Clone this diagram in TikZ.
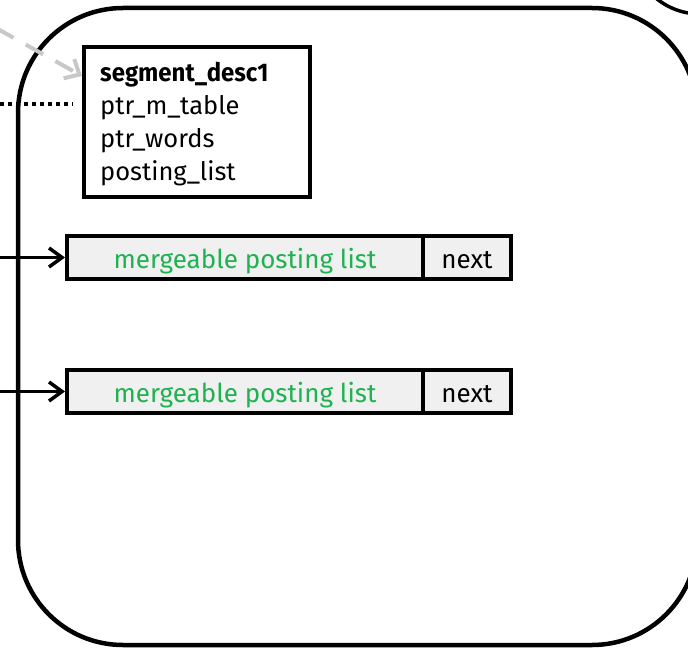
\documentclass[tikz,border=0pt]{standalone}
\usepackage{fontspec}
\setmainfont{Fira Sans}
\usetikzlibrary{arrows.meta}
\definecolor{mplgreen}{RGB}{30,178,80}
\definecolor{boxgray}{RGB}{240,240,240}
\definecolor{dashgray}{RGB}{200,200,200}
\begin{document}
\begin{tikzpicture}[x=1pt,y=-1pt,
  bigbox/.style={line width=4.5pt, rounded corners=105pt},
  descbox/.style={draw, line width=4pt, fill=white, rectangle, minimum width=226pt, minimum height=150pt, inner sep=0pt},
  desctext/.style={align=left, inner sep=0pt, font=\fontsize{25.5}{33}\selectfont},
  mplbox/.style={draw, line width=4pt, fill=boxgray, rectangle, minimum width=356pt, minimum height=43pt, inner sep=0pt, text height=26pt, text depth=5pt, text=mplgreen, font=\fontsize{26}{30}\selectfont},
  nextbox/.style={draw, line width=4pt, fill=boxgray, rectangle, minimum width=88pt, minimum height=43pt, inner sep=0pt, text height=26pt, text depth=5pt, font=\fontsize{26}{30}\selectfont},
  arr/.style={line width=3.5pt, -{Straight Barb[length=13pt,width=19pt,line width=3.5pt]}},
  grayarr/.style={line width=4pt, dashgray, dash pattern=on 20pt off 14pt, -{Straight Barb[length=12pt,width=22pt,line width=4pt]}},
  dotline/.style={line width=4pt, dash pattern=on 4pt off 4pt}
]
\useasboundingbox (0,0) rectangle (688,650);
\clip (0,0) rectangle (688,650);
% big rounded container
\draw[bigbox] (18,8) rectangle (697,645);
% corner of neighbouring container (top right)
\draw[line width=3.5pt] (700,-55) circle[radius=69pt];
% descriptor box
\node[descbox, anchor=north west] (desc) at (82,45) {};
\node[desctext, anchor=north west] (desctxt) at (100,61.5) {\scalebox{0.94}[1]{\textbf{segment\_desc1}}\\ptr\_m\_table\\ptr\_words\\posting\_list};
% incoming connectors
\coordinate (gs) at (-4,28);
\draw[grayarr] (gs) -- (desc.north west |- 0,76) ;
\coordinate (ds) at (0,104);
\coordinate (de) at (73,104);
\draw[dotline] (ds) -- (de);
% posting list rows
\node[mplbox] (m1) at (245,257.5) {mergeable posting list};
\node[nextbox] (n1) at (467,257.5) {next};
\node[mplbox] (m2) at (245,391.5) {mergeable posting list};
\node[nextbox] (n2) at (467,391.5) {next};
\coordinate (s1) at (0,257.5);
\coordinate (s2) at (0,391.5);
\draw[arr] (s1) -- (m1.west);
\draw[arr] (s2) -- (m2.west);
\end{tikzpicture}
\end{document}
